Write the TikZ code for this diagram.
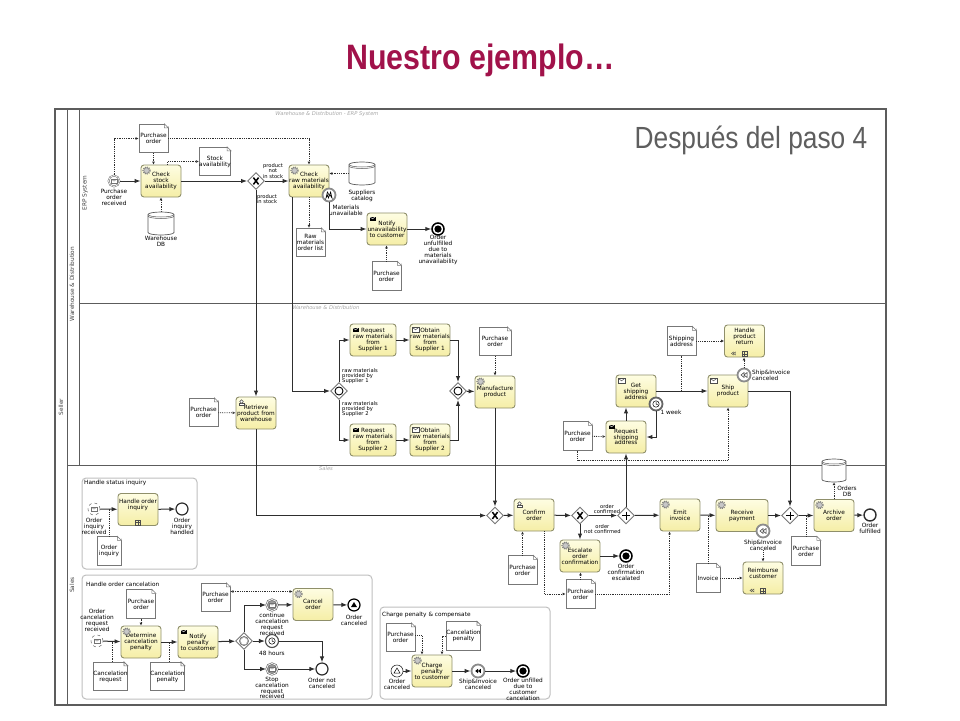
\documentclass[tikz,border=0pt]{standalone}
\usepackage{fontspec}
\setmainfont{DejaVu Sans}
\newfontfamily\titlefont[FakeStretch=.86]{Liberation Sans}
\usetikzlibrary{arrows.meta,shapes.geometric}

\definecolor{titlered}{HTML}{A1124A}
\definecolor{notegray}{HTML}{5E5E5E}
\definecolor{poolline}{HTML}{5C5C5C}
\definecolor{docline}{HTML}{777777}
\definecolor{taskline}{HTML}{8F8F6A}
\definecolor{tasktop}{HTML}{FEFDE2}
\definecolor{taskbottom}{HTML}{F5EEA6}
\definecolor{flowcol}{HTML}{2E2E2E}
\newcommand\bpmnfont{\fontsize{5.8}{5.9}\selectfont}
\newcommand\tinyfont{\fontsize{5.2}{5.1}\selectfont}
\newcommand\lanefont{\fontsize{5.8}{6}\selectfont}

\tikzset{
  task/.style={draw=taskline,line width=.9pt,rounded corners=3pt,top color=tasktop,bottom color=taskbottom,
    minimum width=40pt,minimum height=32pt,inner sep=0pt,align=center,font=\bpmnfont},
  docnode/.style={draw=docline,fill=white,line width=.7pt,minimum width=29pt,minimum height=28.5pt,
    inner sep=0pt,align=center,font=\bpmnfont},
  dbnode/.style={minimum width=26pt,minimum height=23pt,inner sep=0pt},
  lbl/.style={inner sep=0pt,align=center,font=\bpmnfont},
  smalllbl/.style={inner sep=0pt,align=center,font=\tinyfont},
  lanelbl/.style={inner sep=0pt,rotate=90,font=\lanefont,text=black!75},
  lanetitle/.style={inner sep=0pt,font=\tinyfont\itshape,text=black!35},
  gateway/.style={diamond,draw=docline,fill=white,line width=.9pt,minimum size=17pt,inner sep=0pt},
  event/.style={circle,draw=flowcol,fill=white,line width=.7pt,minimum size=12pt,inner sep=0pt},
  evcatch/.style={event,double=white,double distance=.7pt,draw=black!65,line width=.45pt,minimum size=11pt},
  evdash/.style={event,dashed,draw=black!60,line width=.5pt},
  evend/.style={event,draw=black,line width=1.5pt,minimum size=12pt},
  evbound/.style={event,draw=black!45,line width=1.8pt,minimum size=13pt},
  groupbox/.style={draw=black!25,line width=1pt,rounded corners=4pt,inner sep=0pt},
  flow/.style={draw=flowcol,line width=1pt,-{Latex[length=6pt,width=4.5pt]}},
  assoc/.style={draw=flowcol,line width=.8pt,densely dotted,-{Latex[open,length=3pt,width=3pt]}},
  assocboth/.style={assoc,{Latex[open,length=3pt,width=3pt]}-{Latex[open,length=3pt,width=3pt]}},
  assocplain/.style={draw=flowcol,line width=.8pt,densely dotted},
  fold/.pic={
    \fill[white] (-4,0) -- (1,-1) -- (0,4) -- cycle;
    \draw[docline,line width=.6pt,fill=white] (-4,0) -- (0,4) -- (-4,4) -- cycle;
  },
  gearicon/.pic={
    \draw[black!50,line width=1.1pt,densely dotted] (0,0) circle (3.6);
    \draw[black!50,fill=black!22,line width=.5pt] (0,0) circle (2.8);
  },
  envopen/.pic={
    \draw[black!70,fill=white,line width=.5pt] (-3.2,-2.2) rectangle (3.2,2.2);
    \draw[black!70,line width=.5pt] (-3.2,-2.2) -- (0,.3) -- (3.2,-2.2);
  },
  envsmall/.pic={
    \draw[black!55,fill=white,line width=.35pt] (-2.8,-1.9) rectangle (2.8,1.9);
    \draw[black!55,line width=.35pt] (-2.8,-1.9) -- (0,.2) -- (2.8,-1.9);
  },
  envfill/.pic={
    \fill[black] (-3,-2) rectangle (3,2);
    \draw[white,line width=.4pt] (-3,-2) -- (0,.3) -- (3,-2);
  },
  usericon/.pic={
    \draw[black!70,fill=white,line width=.5pt] (-2.8,3) -- (-2.8,.8) -- (2.8,.8) -- (2.8,3) -- cycle;
    \draw[black!70,fill=white,line width=.5pt] (0,-1) circle (1.8);
  },
  clockicon/.pic={
    \draw[black,line width=.5pt,fill=white] (0,0) circle (3.2);
    \draw[black,line width=.5pt] (0,-2.3) -- (0,0) -- (1.7,.8);
  },
  rewind/.pic={
    \fill[black] (0,-2.2) -- (-2.8,0) -- (0,2.2) -- cycle;
    \fill[black] (2.8,-2.2) -- (0,0) -- (2.8,2.2) -- cycle;
  },
  rewindopen/.pic={
    \draw[black!80,line width=.5pt] (0,-2.4) -- (-3,0) -- (0,2.4) -- cycle;
    \draw[black!80,line width=.5pt] (3,-2.4) -- (0,0) -- (3,2.4) -- cycle;
  },
  rewindsmall/.pic={
    \draw[black!70,line width=.4pt] (0,-1.5) -- (-2,0) -- (0,1.5) -- cycle;
    \draw[black!70,line width=.4pt] (2,-1.5) -- (0,0) -- (2,1.5) -- cycle;
  },
  errormark/.pic={
    \draw[black,line width=.6pt,fill=white] (-3,3) -- (-1.6,-3) -- (.4,.6) -- (1.6,-3) -- (3,3) -- (.8,-.4) -- (-.6,3) -- (-1.4,.2) -- cycle;
  },
  subbox/.pic={
    \draw[black!70,line width=.5pt] (-2.7,-2.7) rectangle (2.7,2.7);
    \draw[black!70,line width=.5pt] (-2.7,0) -- (2.7,0) (0,-2.7) -- (0,2.7);
  },
  xmark/.pic={
    \draw[black,line width=1.5pt] (-2.6,-3.4) -- (2.6,3.4) (-2.6,3.4) -- (2.6,-3.4);
  },
  plusmark/.pic={
    \draw[black,line width=1pt] (-4,0) -- (4,0) (0,-4) -- (0,4);
  },
  ringmark/.pic={
    \draw[black,line width=.9pt] (0,0) circle (4);
  },
  evtmark/.pic={
    \draw[black!55,line width=.6pt,fill=black!30] (0,0) circle (4.6);
    \fill[white] (0,-3.6) -- (3.4,-1.1) -- (2.1,2.9) -- (-2.1,2.9) -- (-3.4,-1.1) -- cycle;
  },
  dbcyl/.pic={
    \draw[black!65,fill=white,line width=.7pt] (-#1,-9) arc[start angle=180,end angle=0,x radius=#1pt,y radius=2.5pt]
      -- (#1,9) arc[start angle=0,end angle=-180,x radius=#1pt,y radius=2.5pt] -- cycle;
    \draw[black!65,line width=.5pt] (-#1,-9) arc[start angle=180,end angle=360,x radius=#1pt,y radius=2.5pt];
    \draw[black!65,line width=.5pt] (-#1,-7.5) arc[start angle=180,end angle=360,x radius=#1pt,y radius=2.5pt];
  }
}

\begin{document}
\begin{tikzpicture}[x=1pt,y=-1pt]
\useasboundingbox (0,0) rectangle (960,720);

% titles
\node[inner sep=0pt,text=titlered] (title) at (480.5,60.5) {\titlefont\bfseries\fontsize{35.3}{35}\selectfont Nuestro ejemplo\ldots};
\node[inner sep=0pt,text=notegray] (step) at (751,140.5) {\titlefont\fontsize{30.6}{30}\selectfont Después del paso 4};

% pool and lanes
\node[draw=poolline,line width=1.2pt,minimum width=831pt,minimum height=596pt,inner sep=0pt] (pool) at (470.5,407) {};
\coordinate (p1) at (67,109); \coordinate (p2) at (67,705);
\coordinate (p3) at (79,109); \coordinate (p4) at (79,465);
\coordinate (p5) at (79,303); \coordinate (p6) at (886,303);
\coordinate (p7) at (67,465); \coordinate (p8) at (886,465);
\draw[poolline,line width=1pt] (p1) -- (p2) (p3) -- (p4) (p5) -- (p6) (p7) -- (p8);
\node[lanelbl] (lseller) at (61,407) {Seller};
\node[lanelbl] (lwarehouse) at (72,284) {Warehouse \& Distribution};
\node[lanelbl] (lerp) at (85,193) {ERP System};
\node[lanelbl] (lsales) at (72,585) {Sales};
\node[lanetitle] (terp) at (327,114) {Warehouse \& Distribution - ERP System};
\node[lanetitle] (twh) at (326,308) {Warehouse \& Distribution};
\node[lanetitle] (tsales) at (326,469) {Sales};

% sub-process groups
\node[groupbox,minimum width=115pt,minimum height=91pt] (ginquiry) at (139.5,523.5) {};
\node[groupbox,minimum width=290pt,minimum height=124pt] (gcancel) at (227,637) {};
\node[groupbox,minimum width=170pt,minimum height=92pt] (gcharge) at (465,653) {};
\node[lbl,anchor=west] (tinquiry) at (84,483) {Handle status inquiry};
\node[lbl,anchor=west] (tcancel) at (86,584) {Handle order cancelation};
\node[lbl,anchor=west] (tcharge) at (382,615) {Charge penalty \& compensate};

% ERP system
\node[docnode] (dpo1) at (153.5,138.5) {Purchase\\order};
\node[evcatch] (estart) at (114,181) {};
\node[lbl] (lstart) at (114,197) {Purchase\\order\\received};
\node[task] (tcheckstock) at (161,181) {Check\\stock\\availability};
\node[docnode] (dstock) at (215,161.5) {Stock\\availability};
\node[dbnode] (dbwarehouse) at (161,223.5) {};
\node[lbl] (ldbwarehouse) at (161,241) {Warehouse\\DB};
\node[gateway] (gwstock) at (256,181) {};
\node[smalllbl] (lnotstock) at (273,171) {product\\not\\in stock};
\node[smalllbl] (linstock) at (267,199) {product\\in stock};
\node[task] (tcheckraw) at (309,181) {Check\\raw materials\\availability};
\node[evbound] (bmaterials) at (329,195) {};
\node[dbnode] (dbsupp) at (362,173.5) {};
\node[lbl] (ldbsupp) at (362,196) {Suppliers\\catalog};
\node[lbl] (lmaterials) at (346,210) {Materials\\unavailable};
\node[docnode] (dmaterials) at (310.5,242.5) {Raw\\materials\\order list};
\node[task] (tnotify) at (387,229) {Notify\\unavailability\\to customer};
\node[evend] (eunfulfil) at (438,229) {};
\node[lbl] (lunfulfil) at (438,250) {Order\\unfulfilled\\due to\\materials\\unavailability};
\node[docnode] (dpo2) at (386.5,276) {Purchase\\order};

% warehouse and distribution
\node[task] (tretrieve) at (256,413) {Retrieve\\product from\\warehouse};
\node[docnode] (dpo4) at (203.5,412.5) {Purchase\\order};
\node[gateway] (gwsplit) at (339,391) {};
\node[smalllbl,align=left,anchor=west] (lsup1) at (342,376) {raw materials\\provided by\\Supplier 1};
\node[smalllbl,align=left,anchor=west] (lsup2) at (342,409) {raw materials\\provided by\\Supplier 2};
\node[task,minimum width=46pt] (treq1) at (373,340) {Request\\raw materials\\from\\Supplier 1};
\node[task] (tobt1) at (430,340) {Obtain\\raw materials\\from\\Supplier 1};
\node[task,minimum width=46pt] (treq2) at (373,440) {Request\\raw materials\\from\\Supplier 2};
\node[task] (tobt2) at (430,440) {Obtain\\raw materials\\from\\Supplier 2};
\node[gateway] (gwmerge) at (458,391) {};
\node[task] (tmanuf) at (495,392) {Manufacture\\product};
\node[docnode,minimum width=32pt] (dpo3) at (495,341.5) {Purchase\\order};
\node[docnode] (dship) at (681.5,341) {Shipping\\address};
\node[task] (thandle) at (744.5,341) {Handle\\product\\return\\[4pt]};
\node[task] (tget) at (636,391) {Get\\shipping\\address};
\node[task] (tship) at (728,391) {Ship\\product};
\node[evbound,draw=black!60] (bweek) at (656,404) {};
\node[lbl] (lweek) at (671,412) {1 week};
\node[task] (treqship) at (626,437) {Request\\shipping\\address};
\node[docnode] (dpo5) at (577.5,436) {Purchase\\order};
\node[evbound] (bship) at (744,375) {};
\node[lbl,align=left,anchor=west] (lbship) at (752,375) {Ship\&Invoice\\canceled};
\coordinate (cpo5) at (728,460);

% sales
\node[gateway] (gwx1) at (495,515.5) {};
\node[task] (tconfirm) at (534,515) {Confirm\\order};
\node[gateway] (gwx2) at (580,515.5) {};
\node[smalllbl] (lconf) at (607,509) {order\\confirmed};
\node[smalllbl,anchor=west] (lnotconf) at (584,529) {order\\not confirmed};
\node[gateway] (gwand1) at (626,515.5) {};
\node[task] (temit) at (680,515) {Emit\\invoice};
\node[task] (tescalate) at (580,556) {Escalate\\order\\confirmation};
\node[evend] (eescal) at (626,556) {};
\node[lbl] (lescal) at (626,572) {Order\\confirmation\\escalated};
\node[docnode] (dpo6) at (522.5,570) {Purchase\\order};
\node[docnode] (dpo7) at (580.5,594) {Purchase\\order};
\node[docnode,minimum width=24pt] (dinv) at (708,578) {Invoice};
\node[task,minimum width=52pt] (treceive) at (742,515.5) {Receive\\payment};
\node[evbound] (breceive) at (763,531) {};
\node[lbl] (lbreceive) at (763,545) {Ship\&Invoice\\canceled};
\node[task] (treimb) at (763,578) {Reimburse\\customer\\[3pt]};
\node[gateway] (gwand2) at (790,515.5) {};
\node[docnode] (dpo9) at (806,551) {Purchase\\order};
\node[task] (tarchive) at (834,515.5) {Archive\\order};
\node[dbnode,minimum width=24pt] (dborders) at (834,470.5) {};
\node[lbl] (ldborders) at (847,491) {Orders\\DB};
\node[event,line width=1.4pt] (efulfil) at (870,515) {};
\node[lbl] (lfulfil) at (870,528) {Order\\fulfilled};

% status inquiry
\node[evdash] (einq) at (94,509) {};
\node[lbl] (linq) at (94,526) {Order\\inquiry\\received};
\node[task] (tinq) at (138,509.5) {Handle order\\inquiry\\[4pt]};
\node[event,line width=1.2pt] (einqend) at (182,509) {};
\node[lbl] (linqend) at (182,526) {Order\\inquiry\\handled};
\node[docnode,minimum width=24pt] (dinq) at (109,551) {Order\\inquiry};

% order cancelation
\node[docnode] (dpo10) at (141,604) {Purchase\\order};
\node[evdash] (ecanc) at (97,641) {};
\node[lbl] (lcanc) at (97,620) {Order\\cancelation\\request\\received};
\node[task] (tdet) at (141,642) {Determine\\cancelation\\penalty};
\node[task] (tpen) at (198,642) {Notify\\penalty\\to customer};
\node[docnode] (dreq) at (110.5,676.5) {Cancelation\\request};
\node[docnode] (dpen) at (167.5,676.5) {Cancelation\\penalty};
\node[gateway] (gwevt) at (244,641) {};
\node[docnode] (dpo11) at (215.5,597.5) {Purchase\\order};
\node[evcatch,draw=black!55,line width=.7pt,fill=black!40] (econt) at (272,605) {};
\node[lbl] (lcont) at (272,624) {continue\\cancelation\\request\\received};
\node[evbound,draw=black!70,line width=1.1pt] (e48) at (272,641) {};
\node[lbl] (l48) at (272,653) {48 hours};
\node[evcatch,draw=black!55,line width=.7pt,fill=black!40] (estop) at (272,669) {};
\node[lbl] (lstop) at (272,688) {Stop\\cancelation\\request\\received};
\node[task] (tcancel2) at (313,604.5) {Cancel\\order};
\node[evend,line width=1.2pt] (ecancelled) at (354,605) {};
\node[lbl] (lcancelled) at (354,620) {Order\\canceled};
\node[event,line width=1.2pt] (enot) at (322,669) {};
\node[lbl] (lnot) at (322,683) {Order not\\canceled};

% charge penalty
\node[docnode] (dpo12) at (400.5,637.5) {Purchase\\order};
\node[docnode] (dpen2) at (463.5,636) {Cancelation\\penalty};
\node[event,line width=.6pt] (estartc) at (397,671) {};
\node[lbl] (lstartc) at (397,684) {Order\\canceled};
\node[task] (tcharge2) at (432,671) {Charge\\penalty\\to customer};
\node[evbound] (ecomp) at (478,671) {};
\node[lbl] (lcomp) at (478,684) {Ship\&Invoice\\canceled};
\node[evend] (eunf2) at (523,671) {};
\node[lbl] (lunf2) at (523,689) {Order unfilled\\due to\\customer\\cancelation};

% flows
\draw[flow] (estart) -- (tcheckstock);
\draw[flow] (tcheckstock) -- (gwstock);
\draw[flow] (gwstock) -- (tcheckraw);
\draw[flow] (gwstock) -- (tretrieve);
\draw[flow] (bmaterials.south) |- (tnotify.west);
\draw[flow] (tnotify) -- (eunfulfil);
\draw[flow] ([xshift=4pt]tcheckraw.south west) |- (gwsplit.west);
\draw[flow] (gwsplit.north) |- (treq1.west);
\draw[flow] (gwsplit.south) |- (treq2.west);
\draw[flow] (treq1) -- (tobt1);
\draw[flow] (treq2) -- (tobt2);
\draw[flow] (tobt1.east) -| (gwmerge.north);
\draw[flow] (tobt2.east) -| (gwmerge.south);
\draw[flow] (gwmerge) -- (tmanuf);
\draw[flow] (tmanuf) -- (gwx1);
\draw[flow] (tretrieve.south) |- (gwx1.west);
\draw[flow] (gwx1) -- (tconfirm);
\draw[flow] (tconfirm) -- (gwx2);
\draw[flow] (gwx2) -- (gwand1);
\draw[flow] (gwand1) -- (temit);
\draw[flow] (gwand1.north) -- (treqship.south);
\draw[flow] (treqship.north) -- (treqship.north |- tget.south);
\draw[flow] (bweek.south) |- (treqship.east);
\draw[flow] (tget) -- (tship);
\draw[flow] (tship.east) -| (gwand2.north);
\draw[flow] (gwx2) -- (tescalate);
\draw[flow] (tescalate) -- (eescal);
\draw[flow] (temit) -- (treceive);
\draw[flow] (treceive) -- (gwand2);
\draw[flow] (gwand2) -- (tarchive);
\draw[flow] (tarchive) -- (efulfil);
\draw[flow] (einq) -- (tinq);
\draw[flow] (tinq) -- (einqend);
\draw[flow] (ecanc) -- (tdet);
\draw[flow] (tdet) -- (tpen);
\draw[flow] (tpen) -- (gwevt);
\draw[flow] (gwevt.north) |- (econt.west);
\draw[flow] (gwevt) -- (e48);
\draw[flow] (gwevt.south) |- (estop.west);
\draw[flow] (econt) -- (tcancel2);
\draw[flow] (tcancel2) -- (ecancelled);
\draw[flow] (e48.east) -| (enot.north);
\draw[flow] (estop) -- (enot);
\draw[flow] (estartc) -- (tcharge2);
\draw[flow] (tcharge2) -- (ecomp);
\draw[flow] (ecomp) -- (eunf2);

% data associations
\draw[assoc] (estart.north) |- (dpo1.west);
\draw[assoc] (dpo1.east) -| (tcheckraw.north);
\draw[assoc] (dpo1.south) -- (dpo1.south |- tcheckstock.north);
\draw[assoc] ([xshift=27pt]tcheckstock.north west) |- (dstock.west);
\draw[assoc] (dbwarehouse) -- (tcheckstock);
\draw[assoc] (dbsupp.west) -- (tcheckraw.east |- dbsupp.west);
\draw[assoc] (tcheckraw.south) -- (tcheckraw.south |- dmaterials.north);
\draw[assoc] (dpo2.north) -- (dpo2.north |- tnotify.south);
\draw[assoc] (dpo4) -- (tretrieve);
\draw[assoc] (dpo3) -- (tmanuf);
\draw[assoc] (dship) -- (thandle);
\draw[assoc] (bship.north) -- (bship.north |- thandle.south);
\draw[assocplain] (dship.south) -- (dship.south |- tship.west);
\draw[assoc] (dpo5) -- (treqship);
\draw[assoc] (dpo5.south) |- (cpo5) -- (tship.south);
\draw[assoc] (dpo6.north) -- (dpo6.north |- tconfirm.south);
\draw[assoc] ([xshift=-10pt]tconfirm.south east) |- (dpo7.west);
\draw[assoc] (dpo7.east) -| ([xshift=10pt]temit.south west);
\draw[assoc] (dpo7.north) -- (dpo7.north |- tescalate.south);
\draw[assocplain] (dinv.north) -- (dinv.north |- temit.east);
\draw[assoc] (dinv) -- (treimb);
\draw[assoc] (lbreceive.south) -- (treimb.north);
\draw[assocplain] (dpo9.north) -- (dpo9.north |- tarchive.west);
\draw[assoc] (tarchive) -- (dborders);
\draw[assocplain] (dinq.north) -- (dinq.north |- einq.east);
\draw[assoc] (dpo10) -- (tdet);
\draw[assocplain] ([xshift=1.5pt]dreq.north) -- ([xshift=1.5pt]dreq.north |- tdet.west);
\draw[assocplain] ([xshift=2pt]dpen.north) -- ([xshift=2pt]dpen.north |- tdet.east);
\draw[assocboth] ([yshift=6pt]dpo11.east) -- ([yshift=6pt]dpo11.east -| tcancel2.west);
\draw[assoc] ([yshift=2pt]dpo12.east) -| ([xshift=-10pt]tcharge2.north);
\draw[assoc] (dpen2.west) -| ([xshift=10pt]tcharge2.north);

% folded corners, cylinders and markers
\foreach \d in {dpo1,dstock,dmaterials,dpo2,dpo4,dpo3,dship,dpo5,dpo6,dpo7,dinv,dpo9,dinq,dpo10,dreq,dpen,dpo11,dpo12,dpen2}
  \pic at (\d.north east) {fold};
\pic at (dbwarehouse) {dbcyl=13};
\pic at (dbsupp) {dbcyl=13};
\pic at (dborders) {dbcyl=12};
\foreach \g in {gwstock,gwx1,gwx2} \pic at (\g) {xmark};
\foreach \g in {gwand1,gwand2} \pic at (\g) {plusmark};
\foreach \g in {gwsplit,gwmerge} \pic at (\g) {ringmark};
\pic at (gwevt) {evtmark};
\foreach \t in {tcheckstock,tcheckraw,tmanuf,temit,treceive,tarchive,tescalate,tdet,tcancel2,tcharge2}
  \pic at ([shift={(6pt,-6pt)}]\t.north west) {gearicon};
\foreach \t in {treq1,treq2,tnotify,treqship,tpen}
  \pic at ([shift={(6pt,-6pt)}]\t.north west) {envfill};
\foreach \t in {tobt1,tobt2,tget,tship}
  \pic at ([shift={(6pt,-6pt)}]\t.north west) {envopen};
\foreach \t in {tretrieve,tconfirm}
  \pic at ([shift={(6pt,-6pt)}]\t.north west) {usericon};
\foreach \t in {thandle,treimb,tinq}
  \pic at ([yshift=3.5pt]\t.south) {subbox};
\foreach \t in {thandle,treimb}
  \pic at ([shift={(-11pt,4pt)}]\t.south) {rewindsmall};
\foreach \e in {estart,einq,ecanc,econt,estop} \pic at (\e) {envsmall};
\foreach \e in {bweek,e48} \pic at (\e) {clockicon};
\foreach \e in {bship,breceive} \pic at (\e) {rewindopen};
\pic at (ecomp) {rewind};
\pic at (bmaterials) {errormark};
\fill[black] (eunfulfil) circle (3.6);
\fill[black] (eescal) circle (3.6);
\fill[black] (eunf2) circle (3.6);
\fill[black] ([yshift=3pt]ecancelled.center) -- ([shift={(-3pt,-2pt)}]ecancelled.center) -- ([shift={(3pt,-2pt)}]ecancelled.center) -- cycle;
\draw[black,line width=.5pt] ([yshift=3pt]estartc.center) -- ([shift={(-3pt,-2pt)}]estartc.center) -- ([shift={(3pt,-2pt)}]estartc.center) -- cycle;
\end{tikzpicture}
\end{document}
